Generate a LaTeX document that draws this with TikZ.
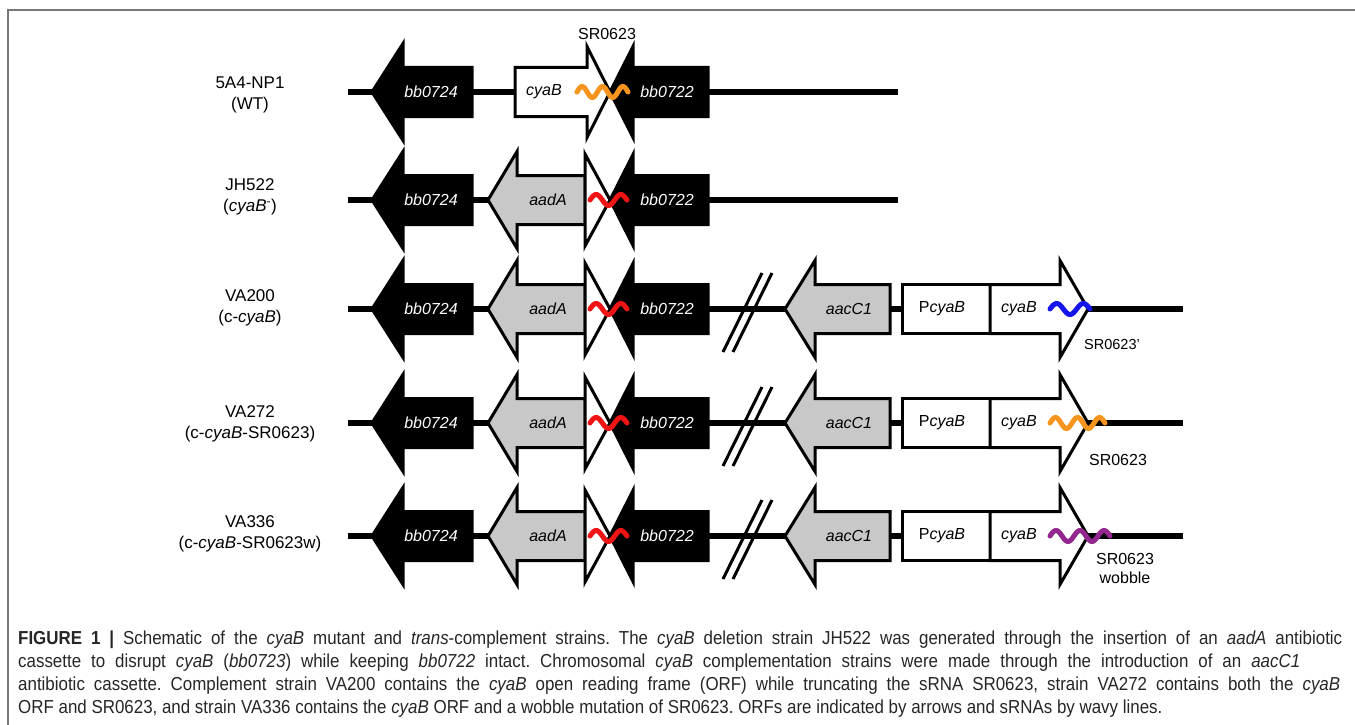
\documentclass[tikz,border=0pt]{standalone}
\usepackage{fontspec}
\setmainfont{Liberation Sans}
\newfontfamily\capfont{Liberation Sans}[FakeStretch=0.9]
\frenchspacing
\definecolor{cassette}{RGB}{200,200,200}
\definecolor{srnaorange}{RGB}{247,148,29}
\definecolor{srnared}{RGB}{240,20,20}
\definecolor{srnablue}{RGB}{20,20,235}
\definecolor{srnapurple}{RGB}{146,39,143}
\definecolor{framegrey}{RGB}{120,120,120}

% gene pointing left: [head half height] tip, head base, body end, row, style
\newcommand{\leftgene}[6][48.5]{%
  \draw[#6] (#2,#5) -- (#3,#5-#1) -- (#3,#5-24.5) -- (#4,#5-24.5) -- (#4,#5+24.5) -- (#3,#5+24.5) -- (#3,#5+#1) -- cycle;}
% gene pointing right: [head half height] body start, head base, tip, row, style
\newcommand{\rightgene}[6][48.5]{%
  \draw[#6] (#2,#5-24.5) -- (#3,#5-24.5) -- (#3,#5-#1) -- (#4,#5) -- (#3,#5+#1) -- (#3,#5+24.5) -- (#2,#5+24.5) -- cycle;}
% sRNA: start, end, row, half periods, colour
\newcommand{\srnawave}[5]{%
  \draw[srna, #5] plot[domain=0:#4*180, samples=60, smooth] ({#1+\x/(#4*180)*(#2-#1)}, {#3-5.5*sin(\x)});}

\begin{document}
\begin{tikzpicture}[x=1pt, y=-1pt,
        chrom/.style={line width=6pt},
        blackgene/.style={draw=black, fill=black, line width=3pt},
        greygene/.style={draw=black, fill=cassette, line width=3pt},
        whitegene/.style={draw=black, fill=white, line width=3pt},
        genetext/.style={font=\itshape\fontsize{16}{16}\selectfont, inner sep=0pt},
        straintext/.style={font=\fontsize{17}{21}\selectfont, align=center, inner sep=0pt},
        srnatext/.style={font=\fontsize{16}{19}\selectfont, align=center, inner sep=0pt},
        srna/.style={line width=5pt, line cap=round},
        breakmark/.style={line width=3pt},
]
        \useasboundingbox (0,0) rectangle (1355,725);
        \draw[framegrey, line width=2pt] (8,725) -- (8,10) -- (1355,10);

        % chromosome lines
        \draw[chrom] (348,92) -- (898,92);
        \draw[chrom] (348,200) -- (898,200);
        \draw[chrom] (348,309) -- (1183,309);
        \draw[chrom] (348,423) -- (1183,423);
        \draw[chrom] (348,536) -- (1183,536);

        % 5A4-NP1
        \leftgene{372}{403}{472}{92}{blackgene}
        \rightgene[45.5]{515}{587}{610}{92}{whitegene}
        \leftgene[45.5]{610}{633}{708}{92}{blackgene}
        \srnawave{577}{628}{92}{5}{srnaorange}

        % JH522, VA200, VA272, VA336
        \foreach \row in {200,309,423,536} {
                \leftgene{372}{403}{472}{\row}{blackgene}
                \leftgene{488}{517}{585}{\row}{greygene}
                \draw[whitegene] (585,\row-46) -- (610,\row) -- (585,\row+46) -- cycle;
                \leftgene[45.5]{610}{633}{708}{\row}{blackgene}
                \srnawave{590}{627}{\row}{3}{srnared}
        }

        % complement locus
        \foreach \row in {309,423,536} {
                \draw[breakmark] (723,\row+43) -- (762,\row-36);
                \draw[breakmark] (733,\row+43) -- (772,\row-36);
                \leftgene{785}{815}{890}{\row}{greygene}
                \draw[whitegene] (902,\row-24.5) rectangle (990,\row+24.5);
                \rightgene{990}{1060}{1088}{\row}{whitegene}
        }
        \srnawave{1050}{1090}{309}{3}{srnablue}
        \srnawave{1050}{1105}{423}{5}{srnaorange}
        \srnawave{1050}{1110}{536}{5}{srnapurple}

        % strain names
        \node[straintext] (wt) at (250,95) {5A4-NP1\\(WT)};
        \node[straintext] (jh522) at (250,197) {JH522\\(\textit{cyaB}\textsuperscript{-})};
        \node[straintext] (va200) at (250,308) {VA200\\(c-\textit{cyaB})};
        \node[straintext] (va272) at (250,424) {VA272\\(c-\textit{cyaB}-SR0623)};
        \node[straintext] (va336) at (250,534) {VA336\\(c-\textit{cyaB}-SR0623w)};

        % gene names
        \node[genetext, text=white] (bbfour) at (431,92) {bb0724};
        \node[genetext] (cyabwt) at (544,92) {cyaB};
        \node[genetext, text=white] (bbtwo) at (667,92) {bb0722};
        \foreach \row/\id in {200/b,309/c,423/d,536/e} {
                \node[genetext, text=white] (bbfour\id) at (431,\row) {bb0724};
                \node[genetext] (aada\id) at (548,\row) {aadA};
                \node[genetext, text=white] (bbtwo\id) at (667,\row) {bb0722};
        }
        \foreach \row/\id in {309/c,423/d,536/e} {
                \node[genetext] (aacc\id) at (849,\row) {aacC1};
                \node[genetext] (prom\id) at (942,\row) {\upshape P\itshape cyaB};
                \node[genetext] (cyab\id) at (1019,\row) {cyaB};
        }

        % sRNA names
        \node[srnatext] (srtop) at (607,34) {SR0623};
        \node[srnatext, font=\fontsize{14.5}{17}\selectfont] (srtrunc) at (1112,345) {SR0623'};
        \node[srnatext] (srfull) at (1118,460) {SR0623};
        \node[srnatext] (srwobble) at (1125,568) {SR0623\\wobble};

        % caption
        \node[anchor=north west, inner sep=0pt, align=left, text=black!85,
              font=\capfont\fontsize{18.8}{23}\selectfont\frenchspacing] (caption) at (18,631)
        {\makebox[1324pt][s]{\textbf{FIGURE 1 |} Schematic of the \textit{cyaB} mutant and \textit{trans}-complement strains. The \textit{cyaB} deletion strain JH522 was generated through the insertion of an \textit{aadA} antibiotic}\\
        \makebox[1282pt][s]{cassette to disrupt \textit{cyaB} (\textit{bb0723}) while keeping \textit{bb0722} intact. Chromosomal \textit{cyaB} complementation strains were made through the introduction of an \textit{aacC1}}\\
        \makebox[1322pt][s]{antibiotic cassette. Complement strain VA200 contains the \textit{cyaB} open reading frame (ORF) while truncating the sRNA SR0623, strain VA272 contains both the \textit{cyaB}}\\
        ORF and SR0623, and strain VA336 contains the \textit{cyaB} ORF and a wobble mutation of SR0623. ORFs are indicated by arrows and sRNAs by wavy lines.};
\end{tikzpicture}
\end{document}
